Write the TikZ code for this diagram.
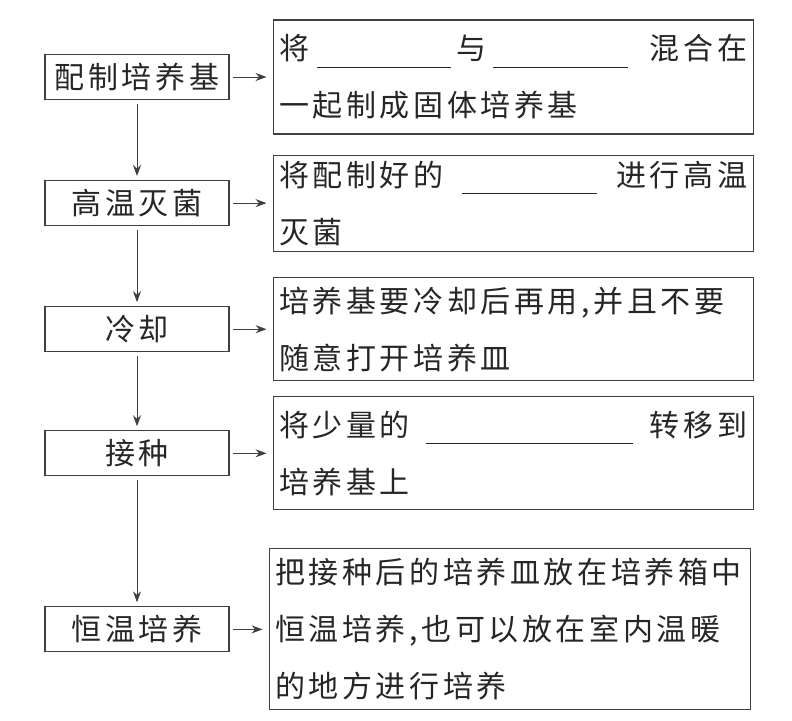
\documentclass[tikz,border=0pt]{standalone}
\usepackage{fontspec}
\newfontfamily\cjk[LetterSpace=12]{Noto Sans CJK SC}
\usetikzlibrary{arrows.meta,positioning}

\newcommand{\blank}[1]{\rule[-8pt]{#1}{0.9pt}}

\begin{document}
\begin{tikzpicture}[
  x=1pt, y=-1pt,
  node distance=80pt,
  stepbox/.style={draw=black!75, line width=1.1pt, minimum width=184pt, minimum height=45pt, inner sep=0pt, font=\cjk\fontsize{30}{57}\selectfont, text=black!85},
  note/.style={draw=black!75, line width=1.1pt, inner xsep=6pt, inner ysep=0pt, text width=468pt, align=left, font=\cjk\fontsize{30}{57}\selectfont, text=black!85},
  flow/.style={-{Stealth[length=11pt,width=8pt]}, line width=1pt, black!75},
]
\useasboundingbox (0,0) rectangle (792,720);

% steps on the left
\node[stepbox] (prep) at (137,77) {配制培养基};
\node[stepbox, below=80pt of prep] (steril) {高温灭菌};
\node[stepbox, below=80pt of steril] (cool) {冷却};
\node[stepbox, below=78pt of cool] (inoc) {接种};
\node[stepbox, below=130pt of inoc] (incub) {恒温培养};

% notes on the right
\node[note, right=43pt of prep, minimum height=114pt] (prepnote)
  {将\hspace{8pt}\blank{134pt}\hspace{5pt}与\hspace{7pt}\blank{135pt}\hfill 混合在\\一起制成固体培养基};
\node[note, right=43pt of steril, minimum height=96pt] (sterilnote)
  {将配制好的\hfill\blank{135pt}\hfill 进行高温\\灭菌};
\node[note, right=43pt of cool, minimum height=103pt] (coolnote)
  {培养基要冷却后再用,并且不要\\随意打开培养皿};
\node[note, right=43pt of inoc, minimum height=113pt] (inocnote)
  {将少量的\hfill\blank{207pt}\hfill 转移到\\培养基上};
\node[note, right=39pt of incub, minimum height=161pt, text width=469pt] (incubnote)
  {把接种后的培养皿放在培养箱中\\恒温培养,也可以放在室内温暖\\的地方进行培养};

\draw[flow, shorten <=4pt, shorten >=4pt] (prep) -- (steril);
\draw[flow, shorten <=4pt, shorten >=4pt] (steril) -- (cool);
\draw[flow, shorten <=4pt, shorten >=4pt] (cool) -- (inoc);
\draw[flow, shorten <=4pt, shorten >=4pt] (inoc) -- (incub);

\draw[flow, shorten <=3pt, shorten >=6pt] (prep) -- (prepnote);
\draw[flow, shorten <=3pt, shorten >=6pt] (steril) -- (sterilnote);
\draw[flow, shorten <=3pt, shorten >=6pt] (cool) -- (coolnote);
\draw[flow, shorten <=3pt, shorten >=6pt] (inoc) -- (inocnote);
\draw[flow, shorten <=3pt, shorten >=6pt] (incub) -- (incubnote);
\end{tikzpicture}
\end{document}
